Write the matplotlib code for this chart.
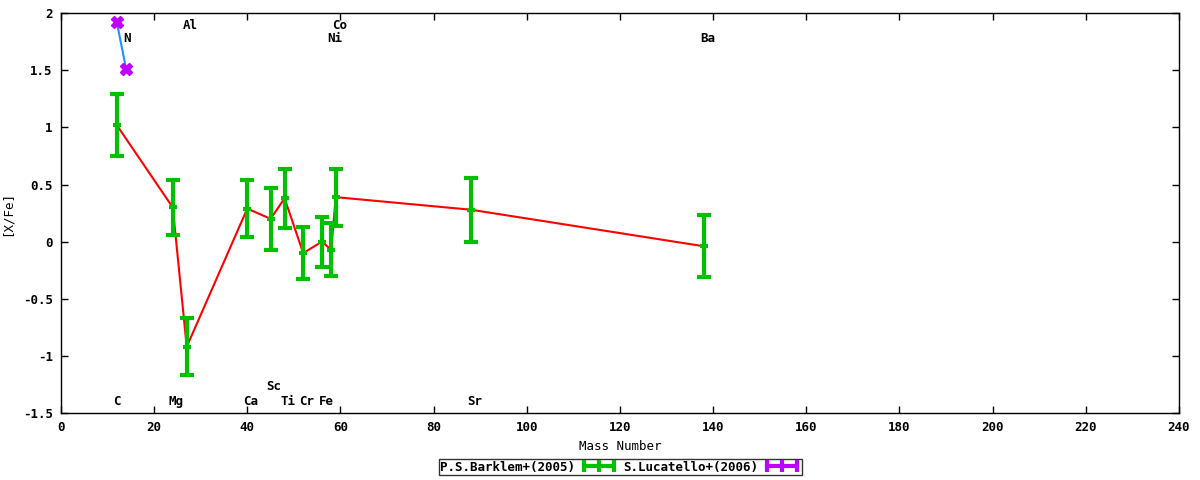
import matplotlib
matplotlib.use('Agg')
import matplotlib.pyplot as plt
from matplotlib.lines import Line2D

# P.S.Barklem+(2005)
barklem_mass = [12, 24, 27, 40, 45, 48, 52, 56, 58, 59, 88, 138]
barklem_xfe = [1.02, 0.30, -0.92, 0.29, 0.20, 0.38, -0.10, 0.00, -0.07, 0.39, 0.28, -0.04]
barklem_err = [0.27, 0.24, 0.25, 0.25, 0.27, 0.26, 0.23, 0.22, 0.23, 0.25, 0.28, 0.27]

# S.Lucatello+(2006)
lucatello_mass = [12, 14]
lucatello_xfe = [1.92, 1.51]

# element labels (x, y, text)
label_x = [12.0, 14.2, 24.7, 27.7, 40.8, 45.7, 48.7, 52.8, 56.9, 59.9, 58.8, 88.8, 138.8]
label_y = [-1.4, 1.78, -1.4, 1.89, -1.4, -1.27, -1.4, -1.4, -1.4, 1.89, 1.78, -1.4, 1.78]
label_txt = ['C', 'N', 'Mg', 'Al', 'Ca', 'Sc', 'Ti', 'Cr', 'Fe', 'Co', 'Ni', 'Sr', 'Ba']

plt.rcParams['font.family'] = ['DejaVu Sans Mono']
plt.rcParams['font.weight'] = 'bold'
plt.rcParams['font.size'] = 9

fig = plt.figure(figsize=(12, 4.8), dpi=100)
ax = fig.add_axes([0.0508, 0.1396, 0.9317, 0.8327])

green = '#00c000'
purple = '#c000ff'

# 赤線は誤差棒の下に描く
ax.plot(barklem_mass, barklem_xfe, color='#ff0000', lw=1.5, zorder=2)
ax.errorbar(barklem_mass, barklem_xfe, yerr=barklem_err, fmt='_', color=green,
            ms=6, mew=3, elinewidth=3, capsize=5, capthick=3, zorder=3)

ax.plot(lucatello_mass, lucatello_xfe, color='#1e90ff', lw=1.5, zorder=3)
ax.plot(lucatello_mass, lucatello_xfe, 'X', color=purple, ms=8, zorder=4)

for x, y, t in zip(label_x, label_y, label_txt):
    ax.text(x, y, t, ha='center', va='center', fontsize=9, fontweight='bold')

ax.set_xlim(0, 240)
ax.set_ylim(-1.5, 2)
ax.set_xticks(range(0, 241, 20))
ax.set_yticks([-1.5, -1, -0.5, 0, 0.5, 1, 1.5, 2])
ax.set_yticklabels(['-1.5', '-1', '-0.5', '0', '0.5', '1', '1.5', '2'])
ax.tick_params(direction='in', top=True, right=True, length=5, width=1, pad=6)
for s in ax.spines.values():
    s.set_linewidth(1)

ax.set_xlabel('Mass Number')
ax.set_ylabel('[X/Fe]')
ax.xaxis.set_label_coords(0.5, -0.068)
ax.yaxis.set_label_coords(-0.042, 0.5)

h1 = Line2D([], [], color=green, lw=3, marker='|', ms=8, mew=3)
h2 = Line2D([], [], color=purple, lw=3, marker='|', ms=8, mew=3)
leg = fig.legend([h1, h2], ['P.S.Barklem+(2005)', 'S.Lucatello+(2006)'],
                 loc='center', bbox_to_anchor=(0.517, 0.027), ncol=2,
                 markerfirst=False, numpoints=3, frameon=True, fancybox=False,
                 borderpad=0.1, handlelength=3.0, handletextpad=0.4,
                 columnspacing=0.4, borderaxespad=0)
leg.get_frame().set_edgecolor('black')
leg.get_frame().set_linewidth(1)

fig.savefig('out.png', dpi=100)
